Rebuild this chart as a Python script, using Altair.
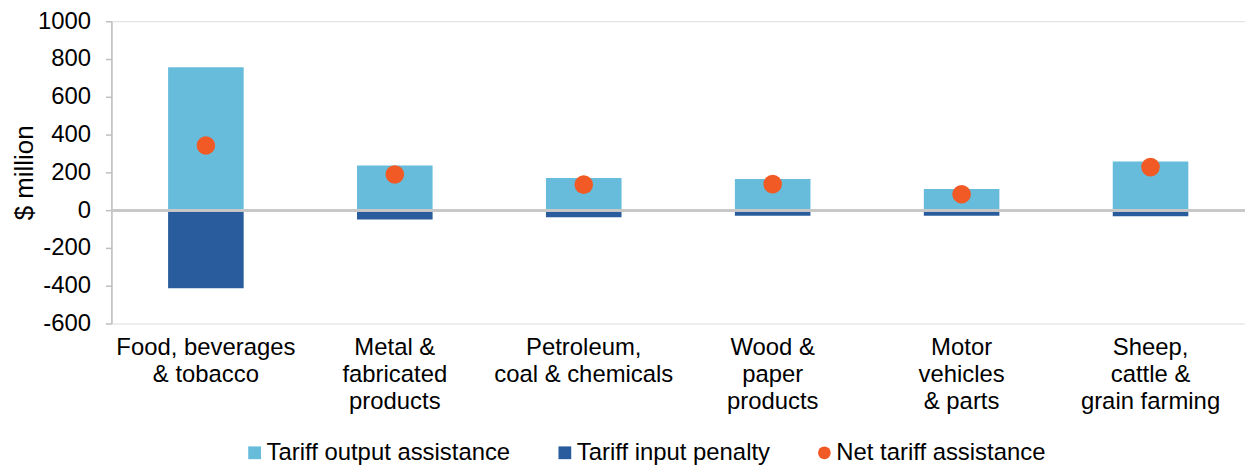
import altair as alt
import pandas as pd

categories = [
    "Food, beverages|& tobacco",
    "Metal &|fabricated|products",
    "Petroleum,|coal & chemicals",
    "Wood &|paper|products",
    "Motor|vehicles|& parts",
    "Sheep,|cattle &|grain farming",
]
output_assistance = [756, 237, 170, 165, 112, 258]
input_penalty = [-414, -49, -38, -30, -30, -32]
net_assistance = [342, 189, 135, 138, 84, 228]
y_ticks = [-600, -400, -200, 0, 200, 400, 600, 800, 1000]

series = ["Tariff output assistance", "Tariff input penalty", "Net tariff assistance"]
colors = ["#67BCDB", "#285C9C", "#F15A24"]

bars = pd.DataFrame(
    [{"category": c, "series": series[0], "value": v} for c, v in zip(categories, output_assistance)]
    + [{"category": c, "series": series[1], "value": v} for c, v in zip(categories, input_penalty)]
)
points = pd.DataFrame(
    [{"category": c, "series": series[2], "value": v} for c, v in zip(categories, net_assistance)]
)

FONT = "Liberation Sans"
FS = 24

x_axis = alt.Axis(
    title=None,
    domain=False,
    ticks=False,
    labelAngle=0,
    labelPadding=12,
    labelFontSize=FS,
    labelLineHeight=27,
    labelColor="#000000",
    labelFont=FONT,
    labelLimit=400,
    labelExpr="split(datum.label, '|')",
)
x_scale = alt.Scale(paddingInner=0.6, paddingOuter=0.3)

y_scale = alt.Scale(domain=[-600, 1000], nice=False)
y_axis = alt.Axis(
    title="$ million",
    values=y_ticks,
    tickCount=len(y_ticks) + 2,
    grid=False,
    labelOverlap=False,
    labelExpr="datum.value + ''",
    domainColor="#BFBFBF",
    domainWidth=1.5,
    tickColor="#BFBFBF",
    tickSize=6,
    tickWidth=1.5,
    labelPadding=15,
    labelFontSize=FS,
    labelColor="#000000",
    labelFont=FONT,
    titleFontSize=26,
    titleFont=FONT,
    titleFontWeight="normal",
    titleColor="#000000",
    titlePadding=0,
)

color_scale = alt.Scale(domain=series, range=colors)
legend = alt.Legend(
    title=None,
    orient="none",
    direction="horizontal",
    legendX=132,
    legendY=422,
    labelFontSize=FS,
    labelFont=FONT,
    labelColor="#000000",
    labelLimit=400,
    symbolSize=165,
    symbolStrokeWidth=0,
    labelOffset=0,
    columnPadding=42,
)

bar_layer = alt.Chart(bars).mark_bar().encode(
    x=alt.X("category:N", sort=categories, scale=x_scale, axis=x_axis),
    y=alt.Y("value:Q", scale=y_scale, axis=y_axis, stack=None),
    color=alt.Color("series:N", scale=color_scale, legend=legend),
)

zero_rule = alt.Chart(bars).mark_rule(color="#C8C8C8", strokeWidth=2).encode(
    y=alt.datum(0)
)

point_layer = alt.Chart(points).mark_point(filled=True, size=350, opacity=1).encode(
    x=alt.X("category:N", sort=categories, scale=x_scale, axis=x_axis),
    y=alt.Y("value:Q", scale=y_scale, axis=y_axis),
    color=alt.Color("series:N", scale=color_scale, legend=legend),
    shape=alt.Shape(
        "series:N",
        scale=alt.Scale(domain=series, range=["square", "square", "circle"]),
        legend=legend,
    ),
)

chart = (
    alt.layer(bar_layer, zero_rule, point_layer)
    .properties(
        width=1140,
        height=304,
        autosize=alt.AutoSizeParams(type="none"),
        padding={"left": 104, "top": 12, "right": 0, "bottom": 142},
    )
    .configure_view(stroke=None)
    .configure_axisY(labelOverlap=False)
    .configure(font=FONT)
)

chart.save("out.html", embed_options={"renderer": "svg", "actions": False})
